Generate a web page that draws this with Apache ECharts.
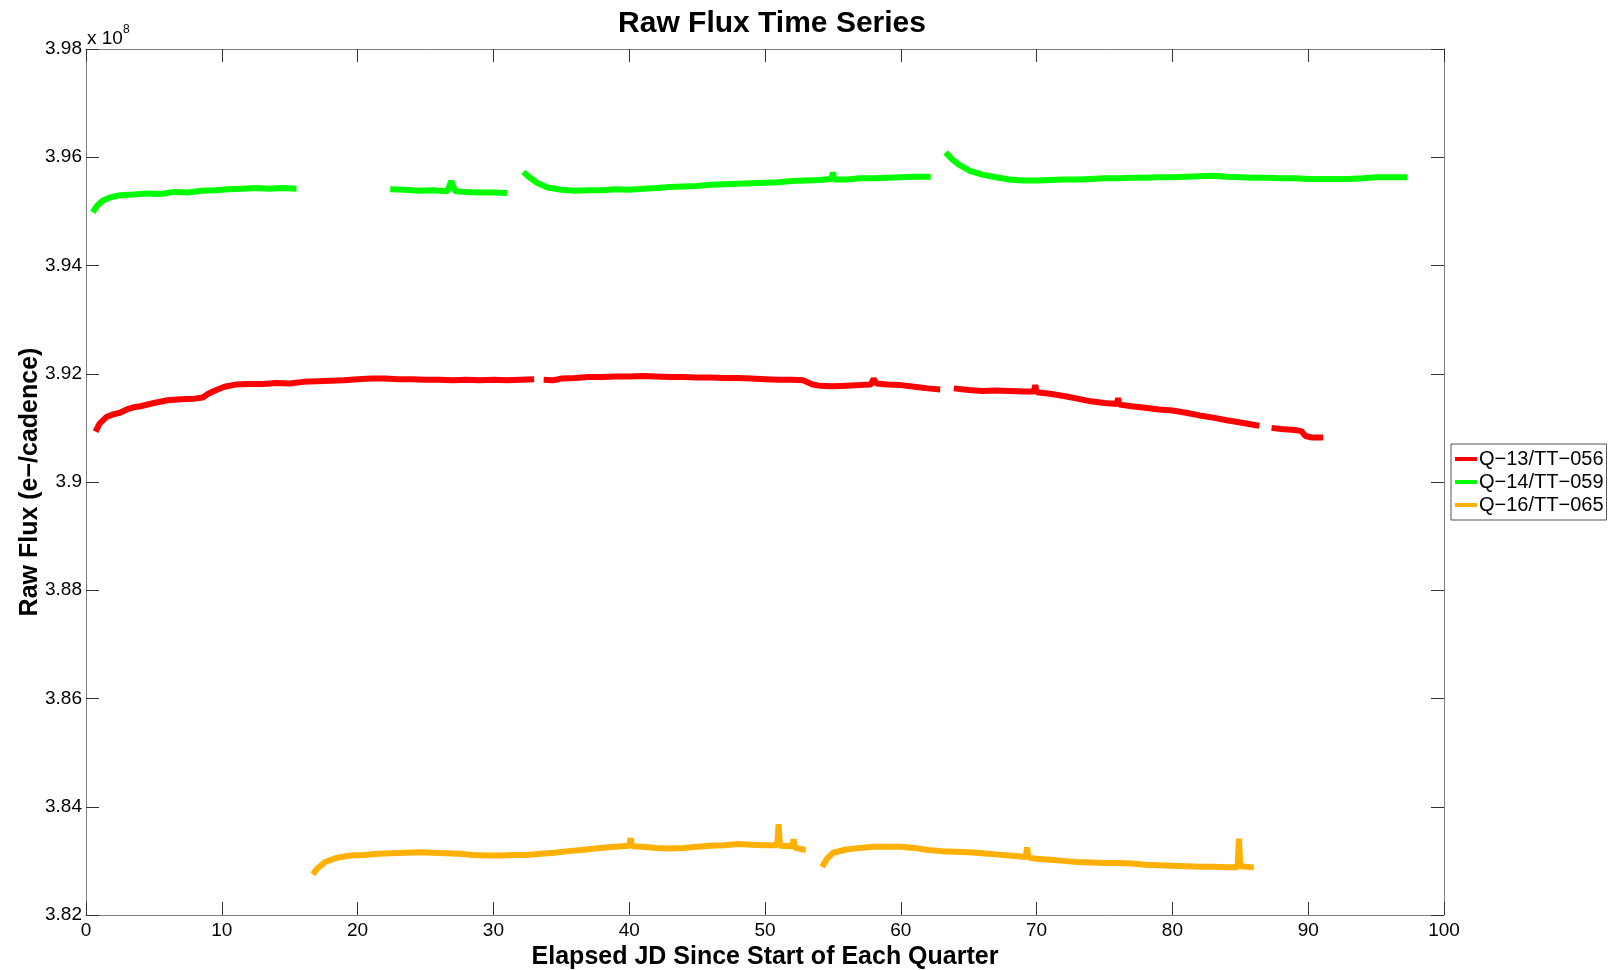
<!DOCTYPE html>
<html>
<head>
<meta charset="utf-8">
<script src="https://cdn.jsdelivr.net/npm/echarts@6/dist/echarts.min.js"></script>
<style>
  html, body { margin: 0; padding: 0; background: #fff; }
  #main { width: 1612px; height: 970px; }
</style>
</head>
<body>
<div id="main"></div>
<script>
// flux in units of 1e8 e-/cadence, null = gap between segments
var q13Days = [0.7, 1.0, 1.5, 2.0, 2.5, 3.0, 3.5, 4.0, 5.0, 6.0, 7.0, 8.0, 8.6, 9.0, 9.6, 10.2, 11, 12, 13, 14, 15, 16, 17, 18, 19, 20, 21, 22, 23, 24, 25, 26, 27, 28, 29, 30, 31, 32, 33.0,
  null,
  33.7, 34.4, 35, 36, 37, 38, 39, 40, 41, 42, 43, 44, 45, 46, 47, 48, 49, 50, 51, 52, 52.8, 53.5, 54, 55, 56, 57, 57.8, 58.0, 58.2, 59, 60, 61, 62, 62.9,
  null,
  63.9, 65, 66, 67, 68, 69, 69.8, 69.9, 70, 71, 72, 73, 74, 75, 75.9, 76.0, 76.1, 77, 78, 79, 80, 81, 82, 83, 84, 85, 86.4,
  null,
  87.3, 88, 89, 89.5, 89.8, 90.3, 91.1];
var q13Flux = [3.9093, 3.9108, 3.9120, 3.9125, 3.9128, 3.9134, 3.9138, 3.9140, 3.9146, 3.9151, 3.9153, 3.9154, 3.9156, 3.9163, 3.9170, 3.9176, 3.9180, 3.9181, 3.9181, 3.9183, 3.9182, 3.9185, 3.9186, 3.9187, 3.9188, 3.9190, 3.9191, 3.9191, 3.9190, 3.9190, 3.9189, 3.9189, 3.9188, 3.9189, 3.9188, 3.9189, 3.9188, 3.9189, 3.9190,
  null,
  3.9189, 3.9188, 3.9191, 3.9192, 3.9194, 3.9194, 3.9195, 3.9195, 3.9196, 3.9195, 3.9194, 3.9194, 3.9193, 3.9193, 3.9192, 3.9192, 3.9191, 3.9190, 3.9189, 3.9189, 3.9188, 3.9180, 3.9178, 3.9177, 3.9178, 3.9179, 3.9180, 3.9191, 3.9182, 3.9180, 3.9179, 3.9176, 3.9173, 3.9171,
  null,
  3.9173, 3.9170, 3.9168, 3.9169, 3.9168, 3.9167, 3.9167, 3.9179, 3.9166, 3.9163, 3.9159, 3.9154, 3.9149, 3.9146, 3.9144, 3.9155, 3.9143, 3.9140, 3.9137, 3.9134, 3.9132, 3.9128, 3.9123, 3.9119, 3.9114, 3.9110, 3.9104,
  null,
  3.9100, 3.9098, 3.9096, 3.9094, 3.9085, 3.9082, 3.9082];

var q14Days = [0.5, 0.8, 1.2, 1.8, 2.5, 3.5, 4.5, 5.5, 6.5, 7.5, 8.5, 9.5, 10.5, 11.5, 12.5, 13.5, 14.5, 15.5,
  null,
  22.4, 23.5, 24.5, 25.5, 26.6, 26.9, 27.2, 28, 29, 30, 31.0,
  null,
  32.2, 32.6, 33.2, 34, 35, 36, 37, 38, 39, 40, 41, 42, 43, 44, 45, 46, 47, 48, 49, 50, 51, 52, 53, 54, 54.9, 55.0, 55.1, 56, 57, 58, 59, 60, 61, 62.2,
  null,
  63.3, 63.7, 64.3, 65.1, 66, 67, 68, 69, 70, 71, 72, 73, 74, 75, 76, 77, 78, 79, 80, 81, 82, 83, 84, 85, 86, 87, 88, 89, 90, 91, 92, 93, 94, 95, 96, 97.3];
var q14Flux = [3.9498, 3.9510, 3.9519, 3.9526, 3.9530, 3.9531, 3.9533, 3.9532, 3.9536, 3.9535, 3.9538, 3.9539, 3.9541, 3.9542, 3.9543, 3.9542, 3.9543, 3.9542,
  null,
  3.9541, 3.9540, 3.9538, 3.9539, 3.9537, 3.9556, 3.9537, 3.9536, 3.9535, 3.9535, 3.9534,
  null,
  3.9573, 3.9564, 3.9553, 3.9544, 3.9540, 3.9538, 3.9539, 3.9539, 3.9541, 3.9540, 3.9542, 3.9543, 3.9545, 3.9546, 3.9547, 3.9549, 3.9550, 3.9551, 3.9552, 3.9553, 3.9554, 3.9556, 3.9557, 3.9558, 3.9560, 3.9572, 3.9559, 3.9559, 3.9561, 3.9561, 3.9562, 3.9563, 3.9564, 3.9564,
  null,
  3.9609, 3.9598, 3.9586, 3.9575, 3.9568, 3.9563, 3.9559, 3.9557, 3.9557, 3.9558, 3.9559, 3.9559, 3.9560, 3.9561, 3.9561, 3.9562, 3.9562, 3.9563, 3.9563, 3.9564, 3.9565, 3.9566, 3.9564, 3.9563, 3.9562, 3.9562, 3.9561, 3.9561, 3.9560, 3.9560, 3.9560, 3.9560, 3.9561, 3.9563, 3.9563, 3.9563];

var q16Days = [16.7, 17.0, 17.6, 18.5, 19.5, 20.5, 21.5, 22.5, 23.5, 24.5, 25.5, 26.5, 27.5, 28.5, 29.5, 30.5, 31.5, 32.5, 33.5, 34.5, 35.5, 36.5, 37.5, 38.5, 39.5, 40.0, 40.1, 40.2, 41, 42, 43, 44, 45, 46, 47, 48, 49, 50, 50.9, 51.0, 51.1, 52.0, 52.1, 52.2, 53.0,
  null,
  54.2, 54.6, 55.0, 56, 57, 58, 59, 60, 61, 62, 63, 64, 65, 66, 67, 68, 69.2, 69.3, 69.4, 70, 71, 72, 73, 74, 75, 76, 77, 78, 79, 80, 81, 82, 83, 84, 84.8, 84.9, 85.0, 86.0];
var q16Flux = [3.8275, 3.8285, 3.8298, 3.8306, 3.8310, 3.8311, 3.8313, 3.8314, 3.8315, 3.8316, 3.8315, 3.8314, 3.8313, 3.8311, 3.8310, 3.8310, 3.8311, 3.8311, 3.8313, 3.8315, 3.8318, 3.8320, 3.8323, 3.8325, 3.8327, 3.8328, 3.8342, 3.8327, 3.8326, 3.8324, 3.8323, 3.8324, 3.8326, 3.8328, 3.8329, 3.8331, 3.8330, 3.8329, 3.8329, 3.8368, 3.8328, 3.8327, 3.8340, 3.8324, 3.8320,
  null,
  3.8289, 3.8305, 3.8315, 3.8321, 3.8324, 3.8326, 3.8326, 3.8326, 3.8324, 3.8320, 3.8318, 3.8317, 3.8316, 3.8314, 3.8312, 3.8310, 3.8307, 3.8325, 3.8306, 3.8304, 3.8302, 3.8300, 3.8298, 3.8297, 3.8296, 3.8296, 3.8295, 3.8293, 3.8292, 3.8291, 3.8290, 3.8289, 3.8289, 3.8288, 3.8288, 3.8341, 3.8290, 3.8288];

var seriesNames = ['Q\u221213/TT\u2212056', 'Q\u221214/TT\u2212059', 'Q\u221216/TT\u2212065'];
var seriesColors = ['#ff0000', '#00ff00', '#ffb000'];

var FONT = 'Liberation Sans';

function pairs(days, flux) {
  var out = [];
  for (var i = 0; i < days.length; i++) {
    if (days[i] === null) {
      out.push(['-', '-']);
    } else {
      out.push([days[i], flux[i]]);
    }
  }
  return out;
}

var chart = echarts.init(document.getElementById('main'));

var lineStyleAxis = { color: '#7f7f7f', width: 1 };
var tickStyle = { show: true, inside: true, length: 13, lineStyle: { color: '#333', width: 1 } };

function makeSeries(name, color, data) {
  return {
    name: name,
    type: 'line',
    data: data,
    showSymbol: false,
    symbol: 'none',
    connectNulls: false,
    lineStyle: { color: color, width: 6 },
    itemStyle: { color: color },
    xAxisIndex: 0,
    yAxisIndex: 0,
    z: 3
  };
}

var option = {
  backgroundColor: '#fff',
  animation: false,
  textStyle: { fontFamily: FONT },
  title: {
    text: 'Raw Flux Time Series',
    left: 767,
    top: 4,
    textAlign: 'center',
    textStyle: { fontFamily: FONT, fontSize: 30, fontWeight: 'bold', color: '#000' }
  },
  grid: {
    left: 86,
    right: 168,
    top: 49,
    bottom: 55,
    outerBoundsMode: 'none',
    show: false
  },
  legend: {
    orient: 'vertical',
    left: 1451,
    top: 444,
    icon: 'rect',
    itemWidth: 22,
    itemHeight: 4,
    itemGap: 3,
    padding: [5, 3, 5, 4],
    borderColor: '#555',
    borderWidth: 1,
    backgroundColor: '#fff',
    textStyle: { fontFamily: FONT, fontSize: 20, color: '#000', padding: [0, 0, 0, -3] },
    data: seriesNames
  },
  xAxis: [{
    type: 'value',
    position: 'bottom',
    min: 0,
    max: 100,
    interval: 10,
    name: 'Elapsed JD Since Start of Each Quarter',
    nameLocation: 'middle',
    nameGap: 30,
    nameMoveOverlap: false,
    nameTextStyle: { fontFamily: FONT, fontSize: 25, fontWeight: 'bold', color: '#000' },
    axisLine: { show: true, onZero: false, lineStyle: lineStyleAxis },
    axisTick: tickStyle,
    axisLabel: { fontFamily: FONT, fontSize: 19, color: '#000', margin: 6 },
    splitLine: { show: false }
  }, {
    type: 'value',
    position: 'top',
    min: 0,
    max: 100,
    interval: 10,
    axisLine: { show: true, onZero: false, lineStyle: lineStyleAxis },
    axisTick: tickStyle,
    axisLabel: { show: false },
    splitLine: { show: false }
  }],
  yAxis: [{
    type: 'value',
    position: 'left',
    min: 3.82,
    max: 3.98,
    interval: 0.02,
    name: 'Raw Flux (e\u2212/cadence)',
    nameLocation: 'middle',
    nameGap: 43,
    nameMoveOverlap: false,
    nameTextStyle: { fontFamily: FONT, fontSize: 25, fontWeight: 'bold', color: '#000' },
    axisLine: { show: true, onZero: false, lineStyle: lineStyleAxis },
    axisTick: tickStyle,
    axisLabel: {
      fontFamily: FONT, fontSize: 19, color: '#000', margin: 4,
      formatter: function (v) { return String(parseFloat(v.toFixed(2))); }
    },
    splitLine: { show: false }
  }, {
    type: 'value',
    position: 'right',
    min: 3.82,
    max: 3.98,
    interval: 0.02,
    axisLine: { show: true, onZero: false, lineStyle: lineStyleAxis },
    axisTick: tickStyle,
    axisLabel: { show: false },
    splitLine: { show: false }
  }],
  graphic: [{
    type: 'text',
    left: 87,
    top: 29,
    style: { text: 'x 10', fontFamily: FONT, fontSize: 19, fill: '#000' }
  }, {
    type: 'text',
    left: 123,
    top: 24,
    style: { text: '8', fontFamily: FONT, fontSize: 12, fill: '#000' }
  }],
  series: [
    makeSeries(seriesNames[0], seriesColors[0], pairs(q13Days, q13Flux)),
    makeSeries(seriesNames[1], seriesColors[1], pairs(q14Days, q14Flux)),
    makeSeries(seriesNames[2], seriesColors[2], pairs(q16Days, q16Flux))
  ]
};

chart.setOption(option);
</script>
</body>
</html>
